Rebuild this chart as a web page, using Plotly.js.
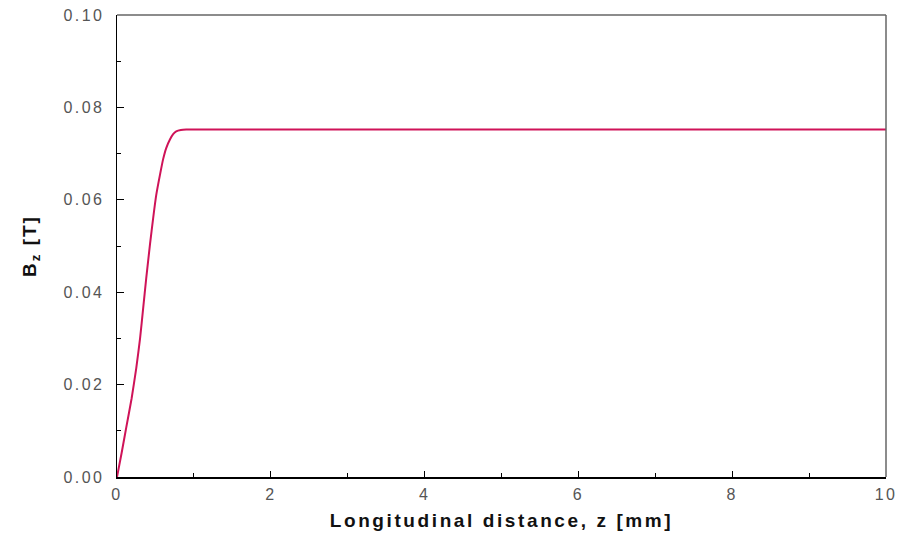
<!DOCTYPE html>
<html>
<head>
<meta charset="utf-8">
<script src="https://cdn.plot.ly/plotly-3.0.1.min.js"></script>
<style>
html,body{margin:0;padding:0;background:#fff;}
#chart{width:899px;height:538px;}
#chart .xtick text, #chart .ytick text{letter-spacing:2.4px;}
#chart .xtitle{letter-spacing:2.6px;}
#chart .ytitle{letter-spacing:2px;}
</style>
</head>
<body>
<div id="chart"></div>
<script>
var zDistance = [0, 0.06, 0.12, 0.19, 0.25, 0.30, 0.34, 0.38, 0.43, 0.47, 0.51, 0.56, 0.60, 0.64, 0.69, 0.73, 0.77, 0.83, 0.90, 1.0, 2, 4, 6, 8, 10];
var bzField = [0, 0.0052, 0.0107, 0.0170, 0.0235, 0.0300, 0.0365, 0.0430, 0.0505, 0.0560, 0.0610, 0.0655, 0.0688, 0.0712, 0.0731, 0.0742, 0.0748, 0.0751, 0.0752, 0.0752, 0.0752, 0.0752, 0.0752, 0.0752, 0.0752];
var xTickVals = [0, 2, 4, 6, 8, 10];
var xTickText = ['0', '2', '4', '6', '8', '10'];
var yTickVals = [0, 0.02, 0.04, 0.06, 0.08, 0.10];
var yTickText = ['0.00', '0.02', '0.04', '0.06', '0.08', '0.10'];

var trace = {
  x: zDistance, y: bzField, type: 'scatter', mode: 'lines',
  line: {color: '#cf1358', width: 2, shape: 'spline', smoothing: 0.5},
  hoverinfo: 'none'
};
var tickFont = {family: 'Liberation Sans, Arial, sans-serif', size: 16, color: '#555'};
var titleFont = {family: 'Liberation Sans, Arial, sans-serif', size: 19, color: '#111', weight: 'bold'};
var layout = {
  width: 899, height: 538,
  margin: {l: 117, r: 13, t: 15, b: 61},
  paper_bgcolor: '#fff', plot_bgcolor: '#fff',
  showlegend: false,
  xaxis: {
    range: [0, 10], tickvals: xTickVals, ticktext: xTickText,
    ticks: 'inside', ticklen: 6, tickwidth: 1, tickcolor: '#000',
    minor: {tickvals: [1, 3, 5, 7, 9], ticks: 'inside', ticklen: 4, tickcolor: '#000'},
    showgrid: false, zeroline: false, showline: true, linecolor: '#000', linewidth: 1.5,
    tickfont: tickFont, ticklabelstandoff: 2,
    title: {text: 'Longitudinal distance, z [mm]', font: titleFont, standoff: 12}
  },
  yaxis: {
    range: [0, 0.10], tickvals: yTickVals, ticktext: yTickText,
    ticks: 'inside', ticklen: 7, tickwidth: 1, tickcolor: '#000',
    minor: {tickvals: [0.01, 0.03, 0.05, 0.07, 0.09], ticks: 'inside', ticklen: 4, tickcolor: '#000'},
    showgrid: false, zeroline: false, showline: true, linecolor: '#000', linewidth: 1.5,
    tickfont: tickFont, ticklabelstandoff: 8,
    title: {text: 'B<sub>z</sub> [T]', font: titleFont, standoff: 31}
  },
  shapes: [
    {type: 'line', xref: 'paper', yref: 'paper', x0: 0, x1: 1, y0: 1, y1: 1, line: {color: '#666', width: 1.5}},
    {type: 'line', xref: 'paper', yref: 'paper', x0: 1, x1: 1, y0: 0, y1: 1, line: {color: '#666', width: 1.5}}
  ]
};
Plotly.newPlot('chart', [trace], layout, {displayModeBar: false, staticPlot: true});
</script>
</body>
</html>
